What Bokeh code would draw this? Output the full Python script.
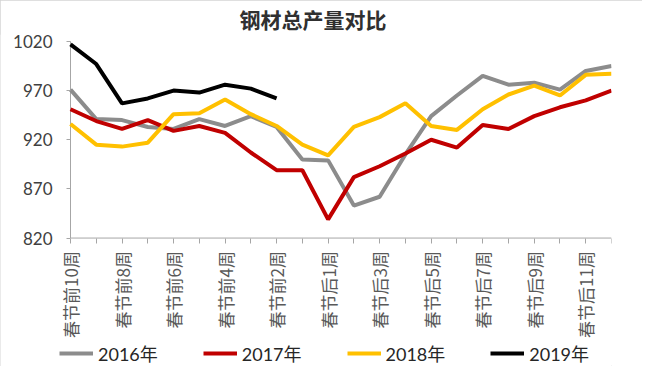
import math
from bokeh.plotting import figure
from bokeh.models import Range1d, FixedTicker, Legend, LegendItem
from bokeh.embed import file_html
from bokeh.resources import INLINE

categories = ["春节前10周", "春节前9周", "春节前8周", "春节前7周", "春节前6周",
              "春节前5周", "春节前4周", "春节前3周", "春节前2周", "春节前1周",
              "春节后1周", "春节后2周", "春节后3周", "春节后4周", "春节后5周",
              "春节后6周", "春节后7周", "春节后8周", "春节后9周", "春节后10周",
              "春节后11周", "春节后12周"]
s2016 = [971, 941, 940, 933, 931, 941, 934, 944, 933, 900, 899,
         853, 862, 905, 944, 965, 985, 976, 978, 971, 990, 995]
s2017 = [951, 939, 931, 940, 929, 934, 927, 907, 889, 889, 839,
         882, 893, 906, 920, 912, 935, 931, 944, 953, 960, 970]
s2018 = [936, 915, 913, 917, 946, 947, 961, 946, 934, 915, 904,
         933, 943, 957, 934, 930, 951, 966, 975, 965, 986, 987]
s2019 = [1017, 997, 957, 962, 970, 968, 976, 972, 962]
y_ticks = [820, 870, 920, 970, 1020]

series = [("2016年", s2016, "#8c8c8c"), ("2017年", s2017, "#c00000"),
          ("2018年", s2018, "#ffc000"), ("2019年", s2019, "#000000")]

LATIN = "Lato, 'Noto Sans CJK SC', sans-serif"
CJK = "'Noto Sans CJK SC'"

# layout (canvas px): the frame covers the canvas below the title; the value
# area spans x 70..611, starts PAD px below the frame top and is PLOT_H tall
W, H, TOP, RIGHT = 642, 366, 30, 31
PLOT_LEFT, PLOT_H, PAD = 70, 199, 7
n = len(categories)
ymin, ymax = y_ticks[0], y_ticks[-1]
px_per_x = (W - RIGHT - PLOT_LEFT) / (n - 1)
x_start = -PLOT_LEFT / px_per_x
units_per_px = (ymax - ymin) / PLOT_H
y_end = ymax + PAD * units_per_px
y_start = ymin - (H - TOP - PAD - PLOT_H) * units_per_px

p = figure(width=W, height=H, output_backend="svg", toolbar_location=None,
           x_range=Range1d(x_start, n - 1), y_range=Range1d(y_start, y_end),
           min_border_left=0, min_border_right=RIGHT, min_border_top=TOP,
           min_border_bottom=0, title="钢材总产量对比")
p.styles = {"outline": "1px solid #d4d4d4", "outline-offset": "-1px"}
p.title.align = "left"
p.title.offset = 239
p.title.standoff = 2
p.title.text_font = "'Noto Sans CJK SC', sans-serif"
p.title.text_font_size = "21px"
p.title.text_font_style = "bold"
p.title.text_color = "#303030"
p.outline_line_color = None
p.xgrid.visible = False
p.ygrid.visible = False

idx = list(range(n))
p.xaxis.fixed_location = ymin
p.xaxis.ticker = FixedTicker(ticks=idx)
p.xaxis.major_label_overrides = {i: (categories[i] if i % 2 == 0 else "") for i in idx}
p.xaxis.major_label_orientation = math.pi / 2
p.xaxis.major_label_text_font = CJK
p.xaxis.major_label_text_font_size = "17px"
p.xaxis.major_label_text_color = "#595959"
p.xaxis.axis_line_color = None
p.xaxis.major_tick_line_color = "#a6a6a6"
p.xaxis.major_tick_out = 5
p.xaxis.major_tick_in = 0
p.xaxis.minor_tick_line_color = None
p.xaxis.major_label_standoff = 8

p.yaxis.fixed_location = 0
p.yaxis.ticker = FixedTicker(ticks=y_ticks)
p.yaxis.major_label_text_font = LATIN
p.yaxis.major_label_text_font_size = "17px"
p.yaxis.major_label_text_color = "#404040"
p.yaxis.axis_line_color = None
p.yaxis.major_tick_line_color = "#a6a6a6"
p.yaxis.major_tick_out = 4
p.yaxis.major_tick_in = 0
p.yaxis.minor_tick_line_color = None
p.yaxis.major_label_standoff = 14

# axis lines limited to the value area
p.segment(x0=[0, 0], y0=[ymin, ymin], x1=[0, n - 1], y1=[ymax, ymin],
          line_color="#a6a6a6", line_width=1)

items = []
for name, vals, color in series:
    r = p.line(idx[:len(vals)], vals, line_color=color, line_width=4)
    items.append(LegendItem(label=name, renderers=[r]))

legend = Legend(items=items, orientation="horizontal", location=(59, 0),
                glyph_width=34, glyph_height=18, label_standoff=5, spacing=45,
                padding=0, margin=0, border_line_color=None,
                background_fill_alpha=0, label_text_font=LATIN,
                label_text_font_size="18px", label_text_color="#262626",
                label_height=18)
p.add_layout(legend, "center")

open("out.html", "w").write(file_html(p, INLINE))
